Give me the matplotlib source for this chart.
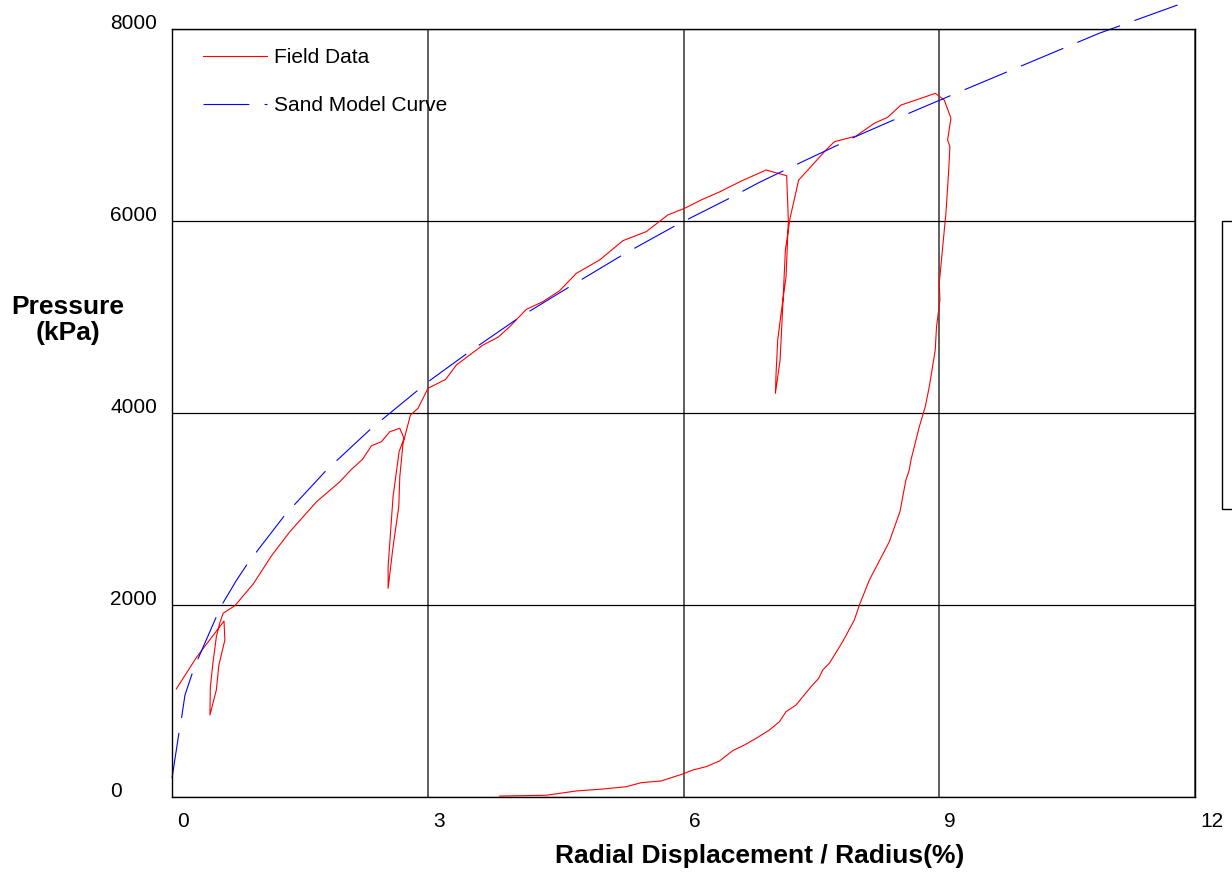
import matplotlib
matplotlib.use("Agg")
import matplotlib.pyplot as plt
import matplotlib.patches as patches
import matplotlib.transforms as mtransforms

plt.rcParams['font.family'] = ['Liberation Sans', 'DejaVu Sans']
plt.rcParams['lines.scale_dashes'] = False

# field pressuremeter data (radial displacement / radius %, pressure kPa)
field_x = [0.05, 0.29, 0.61, 0.62, 0.55, 0.52, 0.445, 0.45, 0.48, 0.52, 0.56, 0.60,
           0.738, 0.953, 1.168, 1.383, 1.696, 1.969, 2.106, 2.235, 2.34, 2.457,
           2.555, 2.672, 2.722, 2.664, 2.593, 2.535, 2.535, 2.593, 2.66, 2.672,
           2.71, 2.797, 2.886, 3.003, 3.21, 3.336, 3.492, 3.648, 3.824, 3.961,
           4.157, 4.351, 4.547, 4.743, 5.016, 5.289, 5.563, 5.816, 6.012, 6.207,
           6.42, 6.68, 6.969, 7.21, 7.23, 7.203, 7.145, 7.105, 7.086, 7.078,
           7.133, 7.164, 7.195, 7.25, 7.351, 7.477, 7.672, 7.77, 8.024, 8.18,
           8.238, 8.394, 8.551, 8.727, 8.953, 9.059, 9.137, 9.098, 9.125, 9.109,
           9.078, 9.0, 9.008, 8.968, 8.953, 8.883, 8.836, 8.766, 8.668, 8.648,
           8.609, 8.539, 8.414, 8.18, 8.063, 8.004, 7.867, 7.711, 7.633, 7.586,
           7.496, 7.32, 7.203, 7.125, 7.008, 6.852, 6.715, 6.578, 6.422, 6.266,
           6.109, 5.992, 5.738, 5.504, 5.328, 5.016, 4.742, 4.391, 3.844]
field_y = [1125, 1458, 1833, 1635, 1375, 1115, 854, 1146, 1396, 1667, 1812, 1914,
           1993, 2219, 2514, 2764, 3076, 3284, 3414, 3518, 3659, 3701,
           3805, 3841, 3736, 3597, 3128, 2399, 2174, 2607, 3024, 3336,
           3684, 3979, 4049, 4257, 4350, 4500, 4604, 4708, 4789, 4899,
           5080, 5160, 5274, 5455, 5594, 5795, 5889, 6063, 6132, 6219,
           6302, 6417, 6531, 6472, 6000, 5420, 5039, 4760, 4414, 4205,
           4552, 5107, 5698, 6030, 6427, 6549, 6740, 6826, 6885, 6982,
           7018, 7080, 7208, 7260, 7330, 7260, 7070, 6844, 6774, 6497,
           6080, 5351, 5177, 4899, 4656, 4274, 4066, 3857, 3510, 3406,
           3302, 2972, 2659, 2260, 2000, 1844, 1618, 1393, 1323, 1236,
           1149, 958, 889, 784, 698, 611, 542, 483, 375, 316,
           281, 240, 167, 149, 107, 80, 63, 18, 10]

# sand model curve
model_x = [0, 0.082, 0.114, 0.152, 0.238, 0.308, 0.524, 0.6, 0.758, 0.894, 1.324,
           1.813, 2.34, 2.898, 3.043, 3.473, 4.07, 4.684, 5.297, 5.934, 6.5,
           6.891, 7.379, 8.043, 8.688, 9.196, 10.875, 11.87]
model_y = [195, 670, 836, 1062, 1289, 1445, 1885, 2024, 2260, 2441, 2937,
           3406, 3841, 4247, 4351, 4628, 4993, 5326, 5653, 5966, 6219,
           6403, 6611, 6889, 7139, 7330, 7955, 8274]

x_ticks = [0, 3, 6, 9, 12]
y_ticks = [0, 2000, 4000, 6000, 8000]

fig = plt.figure(figsize=(12.32, 8.72), dpi=100)
ax = fig.add_axes([172 / 1232, 75 / 872, 1023 / 1232, 768 / 872])

ax.plot(field_x, field_y, color='#ff0000', lw=0.8, label='Field Data')
ax.plot(model_x, model_y, color='#0000ff', lw=0.8, linestyle=(0, (33, 11)),
        label='Sand Model Curve', clip_on=False)

ax.set_xlim(0, 12)
ax.set_ylim(0, 8000)
ax.set_xticks(x_ticks)
ax.set_yticks(y_ticks)
ax.xaxis.grid(True, color='#444444', lw=1.2)
ax.yaxis.grid(True, color='black', lw=0.9)
ax.set_axisbelow(True)
for s in ax.spines.values():
    s.set_linewidth(1.0)
ax.tick_params(length=0, labelsize=15)
ax.tick_params(axis='y', pad=44.6)
ax.tick_params(axis='x', pad=10.8)
for lab in ax.get_yticklabels():
    lab.set_horizontalalignment('left')
    lab.set_verticalalignment('baseline')
shift = mtransforms.ScaledTranslation(5 / 100, 0, fig.dpi_scale_trans)
for lab in ax.get_xticklabels():
    lab.set_horizontalalignment('left')
    lab.set_transform(lab.get_transform() + shift)

ax.legend(loc='upper left', bbox_to_anchor=(0.0303, 0.975), frameon=False,
          fontsize=15, handlelength=3.05, handletextpad=0.38, labelspacing=1.39,
          borderpad=0, borderaxespad=0)

fig.text(760 / 1232, 1 - 856 / 872, 'Radial Displacement / Radius(%)',
         ha='center', va='center', fontsize=19, fontweight='bold')
fig.text(68 / 1232, 1 - 320 / 872, 'Pressure\n(kPa)', ha='center', va='center',
         multialignment='center', linespacing=1.1, fontsize=19, fontweight='bold')

# partly visible box at the right edge
fig.patches.append(patches.Rectangle((1222 / 1232, 1 - 509 / 872), 0.05, 288 / 872,
                                     transform=fig.transFigure, fill=False,
                                     edgecolor='black', lw=1.0))

fig.savefig('out.png', dpi=100)
